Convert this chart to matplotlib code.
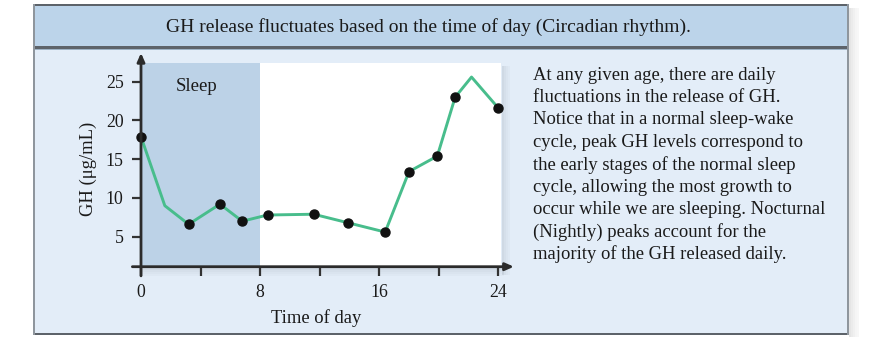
import matplotlib
matplotlib.use('Agg')
import matplotlib.pyplot as plt
from matplotlib.patches import Rectangle

plt.rcParams['font.family'] = ['Liberation Serif', 'DejaVu Serif']

# GH concentration over a 24 h day (hour, ug/mL); only some samples carry a dot
hours = [0.0, 1.6, 3.2, 5.3, 6.8, 8.5, 11.6, 13.9, 16.4, 18.0, 19.9, 21.1, 22.2, 24.0]
gh = [17.9, 9.0, 6.6, 9.2, 7.0, 7.8, 7.9, 6.8, 5.6, 13.4, 15.4, 23.0, 25.6, 21.6]
dotted = [True, False, True, True, True, True, True, True, True, True, True, True, False, True]

sleep_span = (0, 8)
x_major = [0, 8, 16, 24]
x_minor = [4, 12, 20]
y_ticks = [5, 10, 15, 20, 25]

title = "GH release fluctuates based on the time of day (Circadian rhythm)."
note_lines = [
    "At any given age, there are daily",
    "fluctuations in the release of GH.",
    "Notice that in a normal sleep-wake",
    "cycle, peak GH levels correspond to",
    "the early stages of the normal sleep",
    "cycle, allowing the most growth to",
    "occur while we are sleeping. Nocturnal",
    "(Nightly) peaks account for the",
    "majority of the GH released daily.",
]

W, H = 882, 338
fig = plt.figure(figsize=(W / 100, H / 100), dpi=100)
fig.patch.set_facecolor('white')
ink = '#1a1a1a'


def box(x0, y0, x1, y1, **kw):
    # rectangle given in pixels from the top-left corner of the figure
    kw.setdefault('zorder', -5)
    fig.add_artist(Rectangle((x0 / W, 1 - y1 / H), (x1 - x0) / W, (y1 - y0) / H,
                             transform=fig.transFigure, lw=0, **kw))


# panel drop shadow
for i, a in enumerate([0.10, 0.08, 0.06, 0.04, 0.03]):
    box(849 + 2 * i, 8, 851 + 2 * i, 337, color='black', alpha=a)

# panel background, title band and frame
box(33, 5, 849, 48, color='#bcd4ea')
box(33, 48, 849, 335, color='#e3edf8')
box(33, 4, 849, 6, color='#5d636a', zorder=-4)
box(33, 46, 849, 49, color='#5d636a', zorder=-4)
box(33, 49, 849, 50, color='#9eb3c6', zorder=-4)
box(33, 333, 849, 335, color='#5d636a', zorder=-4)
box(33, 4, 35, 335, color='#8f969d', zorder=-4)
box(847, 4, 849, 335, color='#8f969d', zorder=-4)

# shadow behind the plot area
for i, a in enumerate([0.16, 0.11, 0.07, 0.04]):
    box(502 + 2 * i, 66, 504 + 2 * i, 275, color='#6b7580', alpha=a, zorder=-3)
    box(141, 268 + 2 * i, 504, 270 + 2 * i, color='#6b7580', alpha=a, zorder=-3)

fig.text(428 / W, 1 - 27 / H, title, ha='center', va='center', fontsize=14, color=ink)

for i, line in enumerate(note_lines):
    fig.text(533 / W, 1 - (75 + 22.4 * i) / H, line, ha='left', va='center',
             fontsize=13.4, color=ink)

ax = fig.add_axes([141 / W, 1 - 266.7 / H, 360.3 / W, 203.6 / H])
ax.set_facecolor('white')
ax.set_xlim(0, 24.2)
ax.set_ylim(1.13, 27.4)

ax.axvspan(*sleep_span, color='#bcd2e7', lw=0, zorder=1)
ax.text(3.74, 24.35, "Sleep", ha='center', va='center', fontsize=13.5, color=ink, zorder=3)

ax.plot(hours, gh, color='#48bd8c', lw=2.1, zorder=4, clip_on=False)
ax.plot([h for h, d in zip(hours, dotted) if d], [g for g, d in zip(gh, dotted) if d],
        'o', color='#111111', ms=6.5, zorder=5, clip_on=False)

for s in ax.spines.values():
    s.set_visible(False)

ax.set_xticks(x_major)
ax.set_xticks(x_minor, minor=True)
ax.set_yticks(y_ticks)
ax.tick_params(axis='both', which='both', direction='out', length=6.5, width=1.6,
               color='#333333', labelsize=12.8, labelcolor=ink)
ax.tick_params(axis='x', pad=6)
ax.tick_params(axis='y', pad=6)

# axis lines with arrow heads
arrow = dict(arrowstyle='-|>,head_length=0.5,head_width=0.22', lw=2.0, color='#2b2b2b',
             shrinkA=0, shrinkB=0)
ax.annotate('', xy=(1.035, 0), xytext=(-0.024, 0), xycoords='axes fraction',
            arrowprops=arrow, annotation_clip=False, zorder=6)
ax.annotate('', xy=(0, 1.05), xytext=(0, -0.045), xycoords='axes fraction',
            arrowprops=arrow, annotation_clip=False, zorder=6)

ax.set_ylabel("GH (μg/mL)", fontsize=13.4, color=ink, va='center')
ax.yaxis.set_label_coords(-0.147, 0.48)
ax.set_xlabel("Time of day", fontsize=13.4, color=ink, va='center')
ax.xaxis.set_label_coords(0.486, -0.252)

fig.savefig('out.png', dpi=100)
